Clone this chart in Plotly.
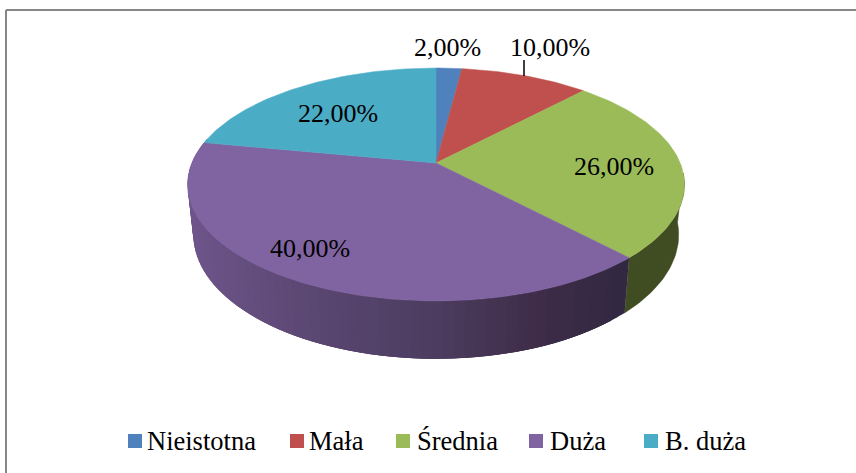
import math
import plotly.graph_objects as go

categories = ["Nieistotna", "Mała", "Średnia", "Duża", "B. duża"]
values = [2, 10, 26, 40, 22]
colors = ["#4F81BD", "#C0504D", "#9BBB59", "#8064A2", "#4BACC6"]
side_green = "#404D23"
label_xy = [(447, 47), (550, 47), (614, 166), (310, 248), (338, 113)]
legend_x = [135, 297, 403, 536, 651]
legend_text_x = [147, 309, 417, 550, 665]
legend_y = 441

# projection of the tilted pie
CX, CY, A, B, K = 436, 163, 112.5, 244.2, 0.1845
CY2, A2, B2 = 212, 119.8, 238.5


def top(t):
    X, Y = math.sin(t), math.cos(t)
    d = 1 + K * Y
    return CX + B * X / d, CY - A * Y / d


def bot(t):
    X, Y = math.sin(t), math.cos(t)
    d = 1 + K * Y
    return CX + B2 * X / d, CY2 - A2 * Y / d


stops = [(190, (110, 84, 138)), (300, (92, 72, 116)), (436, (76, 60, 95)), (540, (62, 44, 72)), (625, (50, 40, 66))]


def purple(x):
    if x <= stops[0][0]:
        c = stops[0][1]
    elif x >= stops[-1][0]:
        c = stops[-1][1]
    else:
        for (a, ca), (b, cb) in zip(stops, stops[1:]):
            if a <= x <= b:
                f = (x - a) / (b - a)
                c = tuple(ca[i] + (cb[i] - ca[i]) * f for i in range(3))
                break
    return "rgb(%d,%d,%d)" % tuple(round(v) for v in c)


fig = go.Figure()
total = sum(values)
edges = [0]
for v in values:
    edges.append(edges[-1] + v / total * 2 * math.pi)


def add_poly(pts, color, lw=0.5):
    fig.add_trace(go.Scatter(x=[p[0] for p in pts] + [pts[0][0]], y=[p[1] for p in pts] + [pts[0][1]],
                             mode="lines", fill="toself", fillcolor=color,
                             line=dict(color=color, width=lw), showlegend=False, hoverinfo="skip"))


# extruded side: green slice
g0, g1 = math.radians(95), edges[3]
n = 30
ts = [g0 + (g1 - g0) * i / n for i in range(n + 1)]
add_poly([top(t) for t in ts] + [bot(t) for t in reversed(ts)], side_green)
# extruded side: purple slice, shaded in narrow overlapping bands painted right to left
p0, p1 = edges[3], math.radians(283)
n = 70
for i in range(n):
    a = p0 + (p1 - p0) * i / n
    b = p0 + (p1 - p0) * min(i + 3, n) / n
    mid = p0 + (p1 - p0) * (i + 0.5) / n
    add_poly([top(a), top(b), bot(b), bot(a)], purple(top(mid)[0]), lw=0)

# top face
for i, c in enumerate(colors):
    n = max(8, int(values[i] * 3))
    ts = [edges[i] + (edges[i + 1] - edges[i]) * j / n for j in range(n + 1)]
    add_poly([(CX, CY)] + [top(t) for t in ts], c)

# leader line
fig.add_trace(go.Scatter(x=[524, 524], y=[60, 76], mode="lines", line=dict(color="black", width=1.5),
                         showlegend=False, hoverinfo="skip"))

# value labels
for v, (lx, ly) in zip(values, label_xy):
    fig.add_annotation(x=lx, y=ly, text=f"{v:.2f}".replace(".", ",") + "%", showarrow=False,
                       font=dict(family="Liberation Serif", size=26, color="black"))

# legend entries
for name, c, lx, tx in zip(categories, colors, legend_x, legend_text_x):
    fig.add_trace(go.Scatter(x=[lx], y=[legend_y], mode="markers", name=name,
                             showlegend=False, hoverinfo="skip",
                             marker=dict(symbol="square", size=14, color=c)))
    fig.add_annotation(x=tx, y=legend_y, text=name, showarrow=False, xanchor="left", xshift=-2,
                       font=dict(family="Liberation Serif", size=26.5, color="black"))

# frame
fig.add_shape(type="line", x0=6, x1=856, y0=10, y1=10, line=dict(color="#868686", width=2))
fig.add_shape(type="line", x0=6, x1=6, y0=10, y1=473, line=dict(color="#868686", width=2))

fig.update_layout(
    width=856, height=473, margin=dict(l=0, r=0, t=0, b=0),
    paper_bgcolor="white", plot_bgcolor="white", showlegend=False,
    xaxis=dict(range=[0, 856], visible=False, fixedrange=True),
    yaxis=dict(range=[473, 0], visible=False, fixedrange=True),
)
fig.write_html("out.html", config={"displayModeBar": False},
               post_script="document.body.style.margin='0';document.body.style.overflow='hidden';")
